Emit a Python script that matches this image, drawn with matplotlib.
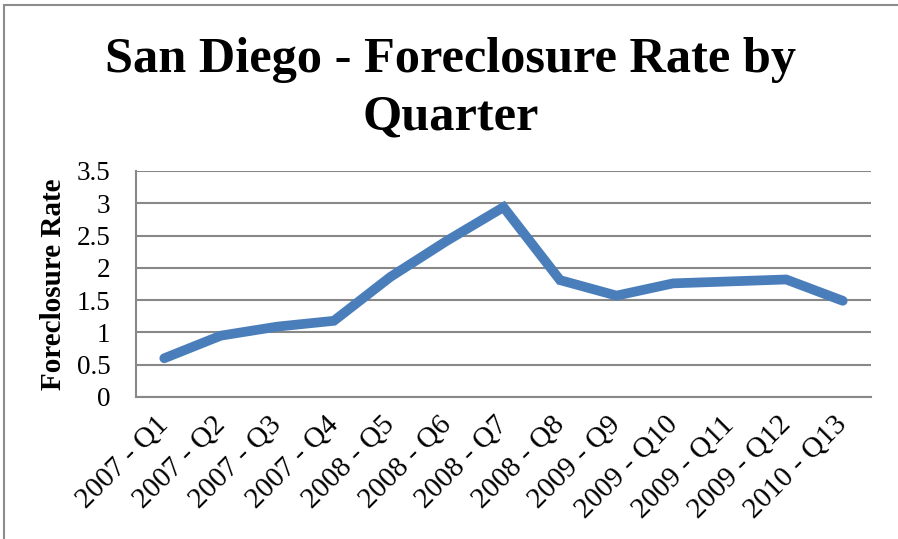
import matplotlib
matplotlib.use("Agg")
import matplotlib.pyplot as plt
from matplotlib.patches import Rectangle

categories = ["2007 - Q1", "2007 - Q2", "2007 - Q3", "2007 - Q4", "2008 - Q5",
              "2008 - Q6", "2008 - Q7", "2008 - Q8", "2009 - Q9", "2009 - Q10",
              "2009 - Q11", "2009 - Q12", "2010 - Q13"]
rates = [0.60, 0.95, 1.09, 1.18, 1.86, 2.42, 2.94, 1.81, 1.57, 1.76, 1.79, 1.82, 1.49]
yticks = [0, 0.5, 1, 1.5, 2, 2.5, 3, 3.5]
ytick_labels = ["0", "0.5", "1", "1.5", "2", "2.5", "3", "3.5"]

W, H = 898, 539
fig = plt.figure(figsize=(W / 100, H / 100), dpi=100)
fig.patches.append(Rectangle((4 / W, -0.1), 1.5, 1 - 5 / H + 0.1, transform=fig.transFigure,
                             fill=False, edgecolor="#8c8c8c", linewidth=1.5))
ax = fig.add_axes([136 / W, 1 - 397 / H, (871 - 136) / W, (397 - 171) / H])

x = list(range(len(categories)))
ax.plot(x, rates, color="#4a7ebb", linewidth=7, solid_capstyle="round",
        solid_joinstyle="miter")
ax.set_xlim(-0.5, len(categories) - 0.5)
ax.set_ylim(0, 3.5)
ax.set_yticks(yticks)
ax.set_yticklabels(ytick_labels)
ax.set_xticks(x)
ax.set_xticklabels(categories, rotation=45, ha="right", va="center",
                   rotation_mode="anchor")

for lab in ax.get_yticklabels():
    lab.set_fontfamily("Liberation Serif")
    lab.set_fontsize(19.5)
for lab in ax.get_xticklabels():
    lab.set_fontfamily("Liberation Serif")
    lab.set_fontsize(21)
ax.tick_params(axis="y", length=0, pad=18.5)
ax.tick_params(axis="x", length=0, pad=17)

ax.grid(axis="y", color="#888888", linewidth=1.5)
ax.set_axisbelow(True)
for side in ["top", "right"]:
    ax.spines[side].set_visible(False)
ax.spines["left"].set_color("#888888")
ax.spines["left"].set_linewidth(1.5)
ax.spines["bottom"].set_color("#888888")
ax.spines["bottom"].set_linewidth(1.5)

ax.set_ylabel("Foreclosure Rate", fontfamily="Liberation Serif", fontweight="bold",
              fontsize=21, labelpad=7)

fig.text(451 / W, 1 - 72 / H, "San Diego - Foreclosure Rate by", ha="center", va="baseline",
         fontfamily="Liberation Serif", fontweight="bold", fontsize=36.3)
fig.text(451 / W, 1 - 130 / H, "Quarter", ha="center", va="baseline",
         fontfamily="Liberation Serif", fontweight="bold", fontsize=36.3)

fig.savefig("out.png", dpi=100)
